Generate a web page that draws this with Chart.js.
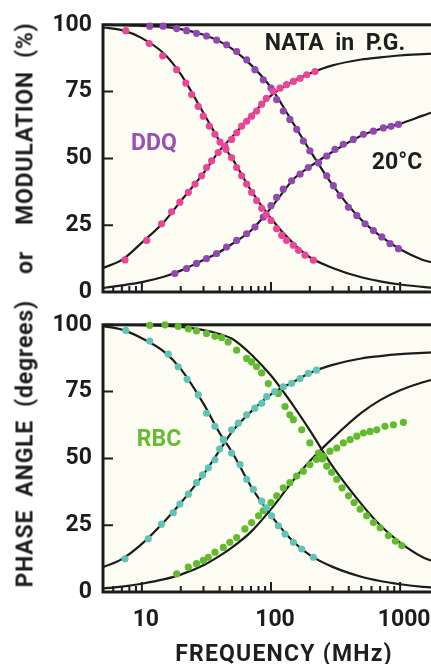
<!DOCTYPE html>
<html>
<head>
<meta charset="utf-8">
<script src="https://cdn.jsdelivr.net/npm/chart.js@4.4.1/dist/chart.umd.min.js"></script>
<style>
html, body { margin: 0; padding: 0; background: #fff; overflow: hidden; }
#wrap { position: relative; width: 431px; height: 664px; overflow: hidden; font-family: Roboto, "DejaVu Sans", sans-serif; color: #1e1e1e; }
#wrap canvas { position: absolute; left: 0; }
#c1 { top: 0; width: 450px; height: 320px; }
#c2 { top: 300px; width: 450px; height: 364px; }
.lbl { position: absolute; white-space: pre; font-size: 23px; font-weight: 700; line-height: 1; transform: translate(-50%, -50%); }
#ytitle { left: 25px; top: 305px; letter-spacing: 0.8px; transform: translate(-50%, -50%) rotate(-90deg); }
#xtitle { left: 284px; top: 653px; letter-spacing: 1.2px; }
</style>
</head>
<body>
<div id="wrap">
  <canvas id="c1" width="450" height="320"></canvas>
  <canvas id="c2" width="450" height="364"></canvas>
  <div class="lbl" id="ytitle">PHASE  ANGLE  (degrees)    or    MODULATION  (%)</div>
  <div class="lbl" id="xtitle">FREQUENCY (MHz)</div>
  <div class="lbl" style="left:335px;top:42px;">NATA  in  P.G.</div>
  <div class="lbl" style="left:397px;top:161px;">20°C</div>
  <div class="lbl" style="left:154px;top:142px;color:#9a4fb6;">DDQ</div>
  <div class="lbl" style="left:159px;top:438px;color:#66bb33;">RBC</div>
</div>
<script>
// frequency grid (MHz) for the fitted curves
const fitFreq = [5, 7, 10, 15, 20, 30, 40, 50, 70, 100, 150, 200, 300, 500, 700, 1000, 1500, 2000];

// top panel: NATA (pink) and DDQ (purple) fits
const nataPhaseFit = [9, 12, 18.5, 26.5, 34, 44.5, 53, 58, 66, 73.5, 79, 81.8, 84.8, 87, 87.8, 88.5, 89, 89.3];
const nataModFit = [99, 98, 95, 89, 81.5, 67, 56.5, 50, 38, 27.5, 18, 13, 9, 5.5, 4, 2.8, 1.9, 1.4];
const ddqPhaseFit = [1.5, 2.5, 3.7, 5.8, 8, 12, 15, 18, 23, 31.5, 42.3, 46.9, 52.5, 58.5, 61, 63, 66, 68];
const ddqModFit = [100, 99.9, 99.6, 99.2, 98.4, 96.3, 93.8, 91, 85, 76.5, 62.8, 53, 40, 27, 21, 16, 12, 10.5];

// bottom panel: reference (teal) and RBC (green) fits
const refPhaseFit = [9.3, 12.3, 18, 26.5, 33.3, 44, 53, 60, 67.5, 74, 78.7, 82, 85, 87.4, 88.3, 89, 89.5, 89.8];
const refModFit = [99.5, 98.2, 95, 89.8, 83.5, 70.5, 59.5, 52.3, 39.5, 28.7, 18.7, 13.8, 9.4, 5.7, 4.1, 2.9, 1.9, 1.5];
const rbcPhaseFit = [1.3, 2, 3.1, 4.8, 6.5, 10, 13.5, 16.7, 22.5, 31, 42, 49, 57.5, 67, 71.8, 75.5, 78.5, 80];
const rbcModFit = [100, 100, 99.9, 99.6, 99.2, 98, 96.5, 94.8, 89, 81, 69.5, 60.5, 47, 33, 25, 18.5, 13, 10.8];

// measured points
const nataPhaseF = [7.4, 10.9, 14.2, 17, 19.7, 22.9, 25.8, 29, 31.7, 34.7, 39, 44, 49.5, 54.2, 59.3, 64.8, 70.8, 77.4, 84.7, 92, 104, 117.5, 132, 149, 168, 189, 219];
const nataPhase = [12, 19.3, 25.5, 30, 33.6, 37.3, 40.4, 43.5, 46.6, 49.1, 52.2, 54.6, 57.1, 59.6, 62.1, 63.9, 65.8, 67.7, 70.3, 72.5, 75.1, 76.3, 77.6, 78.8, 80, 81.3, 82.5];
const nataModF = [7.5, 11.4, 14.5, 18.6, 21.9, 24.3, 27.3, 29.9, 33.3, 36.8, 40.3, 44.8, 49.5, 54.2, 59.3, 64.8, 70.8, 77.4, 84.7, 92, 100, 110.6, 121, 132, 149, 163, 183.5, 213];
const nataMod = [97.8, 93, 88.4, 83.2, 78.2, 73.9, 69.5, 65.8, 62.1, 59, 56.1, 53.4, 50.3, 46.6, 43.5, 40.4, 37.3, 34.2, 31.3, 29, 26.8, 23.7, 21.2, 19.3, 17.5, 15.6, 13.8, 11.9];
const ddqPhaseF = [18, 22.2, 26.5, 31.7, 37.9, 45.3, 54.2, 64.8, 75.1, 87.1, 100, 110.6, 124.5, 144.5, 168, 194.5, 233, 270, 313, 363, 434, 520, 621, 741, 850, 970];
const ddqPhase = [6.9, 8.8, 10.7, 12.5, 14.4, 16.8, 19.3, 21.8, 24.3, 28, 32.3, 35.4, 38.5, 41.6, 44.1, 46.6, 48.4, 50.9, 53.4, 55.3, 57.1, 59, 60.2, 61.4, 62, 62.7];
const ddqModF = [11.5, 14.6, 18.6, 22.2, 26.5, 31.7, 37.9, 45.3, 54.2, 64.8, 75.1, 87.1, 100, 110.6, 124.5, 140, 158, 178, 200, 233, 270, 304, 343, 398, 462, 535, 621, 721, 836, 970];
const ddqMod = [99.5, 99.5, 98.6, 97.8, 96.8, 95.8, 94.3, 92.5, 90, 86.9, 83.2, 79.4, 76.3, 72, 67.7, 64.6, 60.9, 56.5, 52.8, 48.4, 43.5, 39.8, 36.1, 31.7, 28.6, 25.5, 23, 20.6, 18.1, 16.2];

const refPhaseF = [7.4, 11.2, 14.2, 17.5, 19.7, 22.9, 26.5, 29.5, 32.7, 36.8, 40, 43, 49.5, 55.8, 64.8, 75, 84.7, 92.7, 107, 124.5, 144.5, 168, 194.5, 225];
const refPhase = [12.4, 19.9, 25.4, 29.7, 32.9, 36.6, 40.9, 43.8, 46.5, 49.5, 53.5, 56.8, 60.7, 63.2, 66.3, 68.8, 70.6, 73.1, 75, 76.8, 78.1, 79.9, 81.8, 83];
const refModF = [7.5, 11.5, 16, 19.1, 22.4, 27.3, 31.7, 36.8, 42.7, 49.5, 57.6, 64.8, 73, 84.7, 92, 101, 114, 128.5, 149, 173, 213];
const refMod = [97.9, 93.9, 89, 84.3, 79.6, 73.8, 66.9, 62, 57, 52, 47.7, 42.2, 38.4, 34, 31.5, 28.5, 24.8, 21.7, 18.6, 16.1, 13];
const rbcPhaseF = [18.6, 22.9, 26.5, 29.9, 32.7, 36.8, 42.7, 48, 54.2, 62.8, 70.8, 80, 87, 100, 110.6, 124.5, 140, 158, 178, 200, 225, 254, 286, 323, 363, 410, 462, 520, 585, 660, 763, 887, 1060];
const rbcPhase = [6.8, 9.3, 10.6, 11.8, 13, 14.9, 16.7, 18.6, 20.4, 23.6, 26, 28.5, 30.4, 33.5, 36, 39, 40.9, 43.4, 45.2, 47.7, 49.6, 50.8, 52.7, 53.9, 55.8, 57, 58.3, 59.5, 60.1, 60.7, 62, 62.6, 63.5];
const rbcModF = [11.5, 15.1, 19.1, 22.9, 26.5, 31.7, 36.8, 41.5, 46.6, 54.2, 64.8, 70.8, 77.4, 84.7, 95.3, 114, 128.5, 140, 149, 173, 200, 233, 250, 270, 295, 323, 355, 398, 440, 490, 550, 621, 700, 811, 920, 1030];
const rbcMod = [99.8, 100, 99.4, 98.5, 97.7, 96.7, 95.7, 95.2, 93.6, 90.5, 87.4, 86.1, 84.3, 82, 78, 74.3, 69.4, 66.3, 64.5, 60.7, 55.8, 52, 49.8, 47.1, 44.8, 42.2, 39, 36, 33.5, 31, 28.5, 26, 24, 21.1, 19, 17.4];

// axes
const xLabelTicks = [10, 100, 1000];
const xMajorTicks = [10, 100, 1000];
const xMinorTicks = [6, 7, 8, 9, 20, 30, 40, 50, 60, 70, 80, 90, 200, 300, 400, 500, 600, 700, 800, 900];
const yTicks = [0, 25, 50, 75, 100];

const PINK = '#ea4596', PURPLE = '#9247b2', TEAL = '#5ec5b6', GREEN = '#62bb2e';
const INK = '#1c1c1c';
const tickFont = { family: 'Roboto, "DejaVu Sans", sans-serif', size: 23, weight: '700' };

const pts = (fs, vs) => fs.map((f, i) => ({ x: f, y: vs[i] }));

function dots(fs, vs, color) {
    return { data: pts(fs, vs), backgroundColor: color, borderWidth: 0, pointRadius: 3.6, showLine: false, order: 0, clip: false };
}
function fit(vs) {
    return { data: pts(fitFreq, vs), showLine: true, borderColor: INK, borderWidth: 2.2, pointRadius: 0,
             cubicInterpolationMode: 'monotone', order: 1 };
}

const framePlugin = {
    id: 'frame',
    beforeDraw(chart) {
        const { ctx, chartArea: a } = chart;
        ctx.save();
        ctx.fillStyle = '#fdfcf2';
        ctx.fillRect(a.left, a.top, a.right - a.left, a.bottom - a.top);
        ctx.restore();
    },
    beforeDatasetsDraw(chart) {
        const { ctx, chartArea: a, scales: { x, y } } = chart;
        ctx.save();
        ctx.strokeStyle = INK;
        ctx.lineWidth = 2;
        ctx.beginPath();
        xMinorTicks.forEach(v => { const px = x.getPixelForValue(v); ctx.moveTo(px, a.bottom); ctx.lineTo(px, a.bottom - 6); });
        xMajorTicks.forEach(v => { const px = x.getPixelForValue(v); ctx.moveTo(px, a.bottom); ctx.lineTo(px, a.bottom - 10); });
        yTicks.forEach(v => { const py = y.getPixelForValue(v); ctx.moveTo(a.left, py); ctx.lineTo(a.left + 10, py); });
        ctx.stroke();
        ctx.lineWidth = 3;
        ctx.strokeRect(a.left, a.top, a.right - a.left, a.bottom - a.top);
        ctx.restore();
    }
};

function makePanel(id, datasets, showLabels, xHeight, padding) {
    return new Chart(document.getElementById(id), {
        type: 'scatter',
        data: { datasets },
        options: {
            responsive: false,
            maintainAspectRatio: false,
            animation: false,
            events: [],
            layout: { padding },
            plugins: { legend: { display: false }, tooltip: { enabled: false } },
            scales: {
                x: {
                    type: 'logarithmic', min: 5, max: 2000,
                    afterBuildTicks: s => { s.ticks = xLabelTicks.map(v => ({ value: v })); },
                    afterFit: s => { s.height = xHeight; },
                    ticks: { display: showLabels, font: tickFont, color: INK, padding: 14, labelOffset: 4, autoSkip: false,
                             maxRotation: 0, callback: v => String(v) },
                    grid: { display: false, drawTicks: false },
                    border: { display: false }
                },
                y: {
                    min: 0, max: 100,
                    afterBuildTicks: s => { s.ticks = yTicks.map(v => ({ value: v })); },
                    afterFit: s => { s.width = 103; },
                    ticks: { font: tickFont, color: INK, padding: 11 },
                    grid: { display: false, drawTicks: false },
                    border: { display: false }
                }
            }
        },
        plugins: [framePlugin]
    });
}

makePanel('c1', [
    dots(nataPhaseF, nataPhase, PINK), dots(nataModF, nataMod, PINK),
    dots(ddqPhaseF, ddqPhase, PURPLE), dots(ddqModF, ddqMod, PURPLE),
    fit(nataPhaseFit), fit(nataModFit), fit(ddqPhaseFit), fit(ddqModFit)
], false, 28, { top: 23, right: 11, bottom: 0, left: 0 });

makePanel('c2', [
    dots(refPhaseF, refPhase, TEAL), dots(refModF, refMod, TEAL),
    dots(rbcPhaseF, rbcPhase, GREEN), dots(rbcModF, rbcMod, GREEN),
    fit(refPhaseFit), fit(refModFit), fit(rbcPhaseFit), fit(rbcModFit)
], true, 72, { top: 22, right: 11, bottom: 0, left: 0 });
</script>
</body>
</html>
